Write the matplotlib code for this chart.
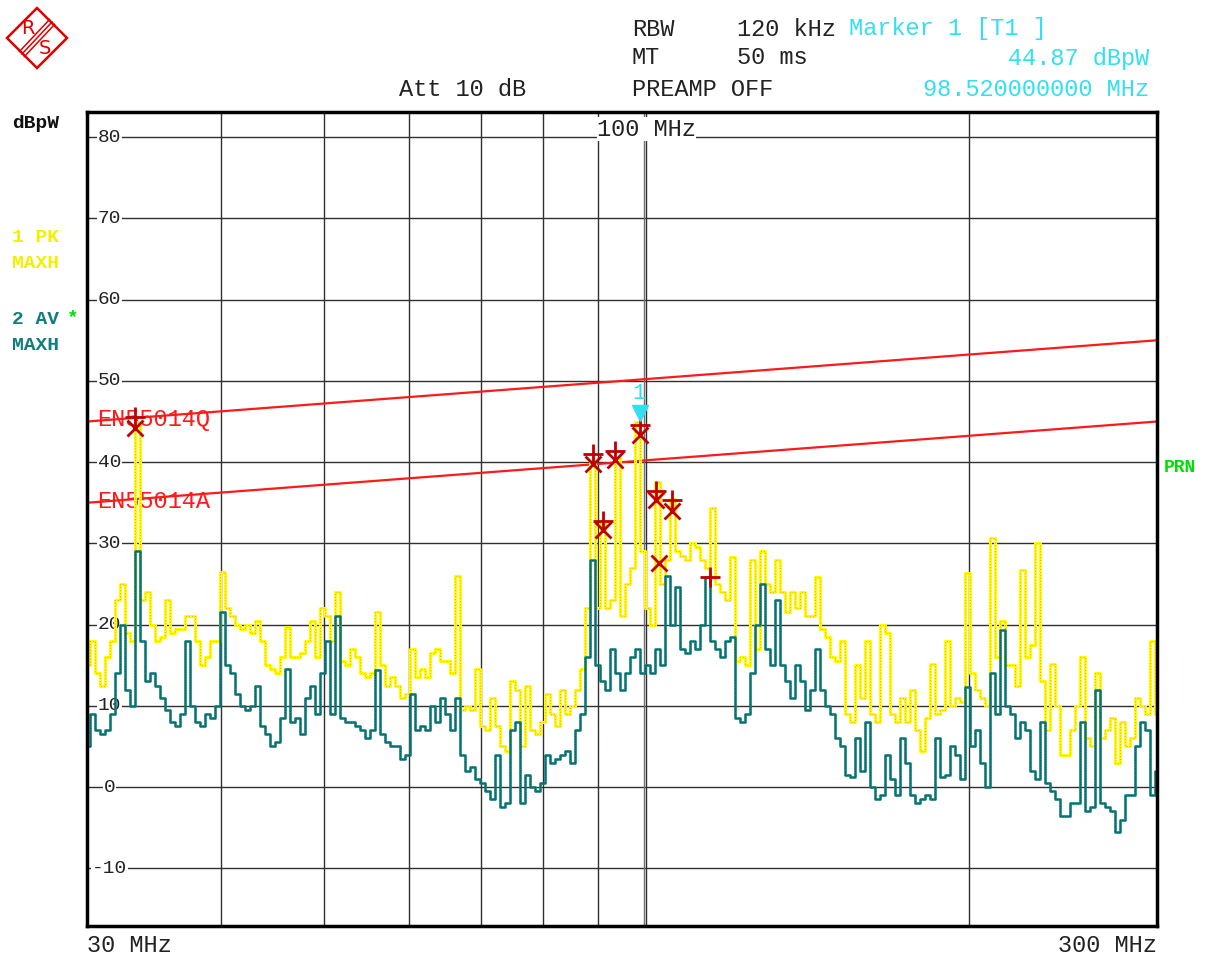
import numpy as np
import matplotlib.pyplot as plt
from matplotlib.patches import Polygon
from matplotlib.lines import Line2D

# sweep: 215 log-spaced points between start and stop frequency
f_start, f_stop = 30, 300
sweep_mhz = np.geomspace(f_start, f_stop, 215)

# trace 1: PK MAXH (dBpW)
pk_db = [15, 18, 14, 12.5, 16, 18, 23, 25, 19, 18,
         45, 23, 24, 20, 18, 18.5, 23, 19, 19.5, 19.5,
         21, 21, 18, 15, 16, 18, 18, 26.5, 22, 21,
         20, 19.5, 20, 19, 20.5, 18, 15, 14.5, 14, 16,
         19.7, 16, 16, 16.5, 18, 20.5, 16, 22, 21, 18,
         24, 15.5, 15, 17, 16, 14, 13.5, 14, 21.5, 15,
         12.5, 13.5, 12.5, 11, 11.5, 17, 13.5, 14.5, 13.5, 16.5,
         17, 15.5, 15.5, 14, 26, 9.5, 10, 9.5, 14.5, 7.5,
         7, 11, 7.5, 5, 4.5, 13, 12, 5, 12.5, 7,
         6.5, 8, 11.5, 9, 7.5, 12, 9, 10, 12, 14.5,
         22, 40, 22, 32.5, 22, 23, 40.5, 21, 25, 27,
         44.9, 29, 22, 20, 37.5, 25, 28, 35.5, 29, 28.5,
         28, 30, 29.5, 28, 27, 34.4, 25, 24, 23, 28.3,
         15.5, 16, 15, 28, 17, 29, 25, 24, 28, 24,
         21.5, 24, 22, 24, 21, 21, 25.8, 19.5, 18.5, 16,
         15.5, 18, 9, 8, 15, 11, 18, 9, 8, 20,
         19, 9, 8, 11, 8, 12, 7, 4.5, 8.5, 15.2,
         9, 9.5, 18, 10, 11, 10.5, 26.3, 14, 12, 11,
         10, 30.7, 16, 20.5, 15, 15, 12.5, 26.7, 16, 17.5,
         30.1, 13, 7, 15.2, 10, 4, 4, 7, 10, 16,
         6, 5, 14, 6, 7, 8.5, 3, 8, 5, 6,
         11, 10, 9, 18, 9]

# trace 2: AV MAXH (dBpW)
av_db = [5, 9, 7, 6.5, 7, 9, 14, 20, 12, 10,
         29, 18, 13, 14, 12.5, 11, 9.5, 8, 7.5, 9,
         18, 10, 8, 7.5, 9, 8.5, 10, 21.5, 15, 14,
         11.5, 10, 9.5, 10, 12.5, 7.5, 6.5, 5, 5.5, 8.5,
         14.5, 8, 8.5, 6.5, 11, 12.5, 9, 14, 18, 9,
         21, 8.5, 8, 8, 7.5, 7, 6, 7, 14.4, 6.5,
         5.5, 5, 5, 3.5, 4, 11.5, 7, 7.5, 7, 10,
         8, 11, 9, 7, 11, 4, 2, 2.5, 1, 0.5,
         -0.5, -1.5, 4, -2.5, -2, 7, 8, -2, 1.5, 0,
         -0.5, 0.5, 4, 3, 3.5, 4, 4.5, 3, 7, 9,
         16, 28, 15, 13, 12, 17, 14, 12, 14, 16,
         17, 14, 15, 14, 17, 15, 26, 20, 24.6, 17,
         16.5, 18, 17, 20, 25.8, 18, 17, 16, 18, 18.5,
         8.5, 8, 9, 14, 20, 25, 17, 15, 23, 15,
         13, 11, 15, 13, 9.5, 12, 17, 12, 10, 9,
         6, 5, 1.5, 1.2, 6, 2, 8, 0, -1.5, -1,
         4, 1, -1, 6, 3, -1, -2, -1.5, -1, -1.5,
         6, 1.2, 1.5, 5, 4, 1, 12.3, 5, 7, 3,
         0, 14, 9, 19.3, 10, 9, 6, 8, 7, 2,
         1, 8, 0.5, -0.5, -1.5, -3.5, -3.5, -2, -2, 8,
         -3, -2.5, 12, -2, -2.5, -3, -5.5, -4, -1, -1,
         5, 8, 7, -1, 2]

# limit lines
limit_mhz = [30, 300]
limit_q_db = [45, 55]
limit_a_db = [35, 45]

# peak list markers
plus_mhz = [33.27, 89.1, 91.1, 93.5, 98.52, 102.1, 105.6, 114.7]
plus_db = [45.6, 41.0, 32.7, 41.4, 44.6, 36.4, 35.3, 25.8]
cross_mhz = [33.27, 89.1, 91.1, 93.5, 98.52, 102.1, 102.7, 105.6]
cross_db = [44.2, 39.8, 31.6, 40.3, 43.4, 35.3, 27.6, 34.0]

marker1_mhz = 98.52
marker1_db = 44.87

grid_mhz = [40, 50, 60, 70, 80, 90, 100, 200]
grid_db = [80, 70, 60, 50, 40, 30, 20, 10, 0, -10]

mono = 'Liberation Mono'
cyan = '#33dff0'
teal = '#0f7f7d'
red = '#ff1a1a'
mred = '#c00000'

fig = plt.figure(figsize=(12.07, 9.58), dpi=100)
W, H = 1207, 958
ax = fig.add_axes([87 / W, 32 / H, 1070 / W, 814 / H])
ax.set_xscale('log')
ax.set_xlim(f_start, f_stop)
ax.set_ylim(-17.1, 83.1)
ax.set_xticks([])
ax.set_yticks([])
ax.minorticks_off()
for s in ax.spines.values():
    s.set_linewidth(2.5)
    s.set_zorder(10)

for g in grid_db:
    ax.axhline(g, color='#303030', lw=1, zorder=1)
for g in grid_mhz:
    ax.axvline(g, color='#303030', lw=1, zorder=1)
ax.axvline(99.4, color='#707070', lw=1, zorder=1)

for g in grid_db:
    ax.text(0.021, g, str(g), transform=ax.get_yaxis_transform(), ha='center', va='center',
            fontsize=14, family=mono, color='#222222', zorder=2,
            bbox=dict(fc='white', ec='none', pad=0.6))

ax.text(100, 81.0, '100 MHz', ha='center', va='center', fontsize=17, family=mono,
        color='#222222', zorder=2, bbox=dict(fc='white', ec='none', pad=0.3))

# limit lines
ax.plot(limit_mhz, limit_q_db, color=red, lw=1.6, zorder=4)
ax.plot(limit_mhz, limit_a_db, color=red, lw=1.6, zorder=4)
ax.text(0.009, 45.2, 'EN55014Q', transform=ax.get_yaxis_transform(), ha='left', va='center',
        fontsize=17, family=mono, color=red, zorder=4)
ax.text(0.009, 35.2, 'EN55014A', transform=ax.get_yaxis_transform(), ha='left', va='center',
        fontsize=17, family=mono, color=red, zorder=4)

# traces
ax.plot(sweep_mhz, pk_db, color='#ffff00', lw=2.2, drawstyle='steps-mid', zorder=5)
ax.plot(sweep_mhz, pk_db, color='#ff5a00', lw=0.8, ls=':', alpha=0.5,
        drawstyle='steps-mid', zorder=5)
ax.plot(sweep_mhz, av_db, color=teal, lw=1.9, drawstyle='steps-mid', zorder=6)
ax.plot(sweep_mhz, av_db, color='#003030', lw=0.7, ls=':', alpha=0.5,
        drawstyle='steps-mid', zorder=6)

# peak markers
ax.plot(plus_mhz, plus_db, ls='none', marker='+', ms=15, mew=2, color=mred, zorder=8)
ax.plot(cross_mhz, cross_db, ls='none', marker='x', ms=11, mew=2, color=mred, zorder=8)

ax.plot([marker1_mhz], [marker1_db + 1.2], ls='none', marker='v', ms=11, color=cyan, zorder=9)
ax.text(marker1_mhz, marker1_db + 3.6, '1', ha='center', va='center', fontsize=16,
        family=mono, color=cyan, zorder=9)


def ftext(x, y, s, **kw):
    fig.text(x / W, 1 - y / H, s, family=mono, va='center', **kw)


# header
ftext(632, 29, 'RBW', fontsize=17, color='#222222')
ftext(737, 29, '120 kHz', fontsize=17, color='#222222')
ftext(849, 29, 'Marker 1 [T1 ]', fontsize=17, color=cyan)
ftext(632, 58, 'MT', fontsize=17, color='#222222')
ftext(737, 58, '50 ms', fontsize=17, color='#222222')
ftext(1149, 58, '44.87 dBpW', fontsize=17, color=cyan, ha='right')
ftext(399, 89, 'Att 10 dB', fontsize=17, color='#222222')
ftext(632, 89, 'PREAMP OFF', fontsize=17, color='#222222')
ftext(1149, 89, '98.520000000 MHz', fontsize=17, color=cyan, ha='right')

# side labels
ftext(12, 123, 'dBpW', fontsize=14, weight='bold', color='#111111')
ftext(12, 237, '1 PK', fontsize=14, weight='bold', color='#f0f000')
ftext(12, 263, 'MAXH', fontsize=14, weight='bold', color='#f0f000')
ftext(12, 320, '2 AV', fontsize=14, weight='bold', color=teal)
ftext(67, 318, '*', fontsize=14, weight='bold', color='#00e000')
ftext(12, 346, 'MAXH', fontsize=14, weight='bold', color=teal)
ftext(1164, 467, 'PRN', fontsize=13, weight='bold', color='#00e000')

ftext(87, 946, '30 MHz', fontsize=17, color='#222222')
ftext(1157, 946, '300 MHz', fontsize=17, color='#222222', ha='right')


# R&S logo
def fp(x, y):
    return (x / W, 1 - y / H)


fig.add_artist(Polygon([fp(7, 38), fp(37, 8), fp(67, 38), fp(37, 68)], closed=True,
                       fill=False, ec='#e00000', lw=1.8, transform=fig.transFigure))
for d in (-2.5, 0, 2.5):
    fig.add_artist(Line2D([(52 + d) / W, (22 + d) / W], [1 - (22 + d) / H, 1 - (54 + d) / H],
                          color='#e00000', lw=1.1, transform=fig.transFigure))
fig.text(28 / W, 1 - 29 / H, 'R', fontsize=14, color='#e00000', ha='center', va='center',
         family='DejaVu Sans')
fig.text(45 / W, 1 - 48 / H, 'S', fontsize=14, color='#e00000', ha='center', va='center',
         family='DejaVu Sans')

fig.savefig('out.png', dpi=100)
